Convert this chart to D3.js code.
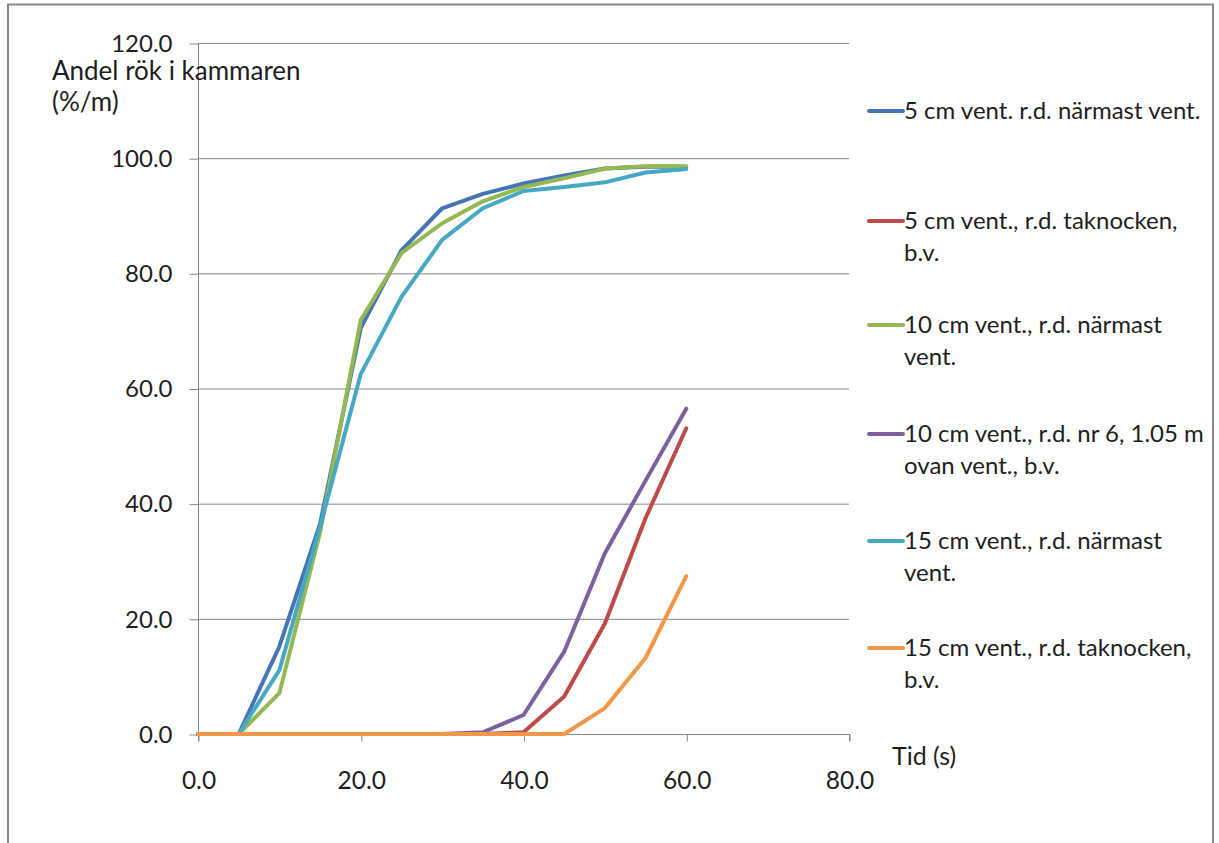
<!DOCTYPE html>
<html><head><meta charset="utf-8">
<script src="https://cdn.jsdelivr.net/npm/d3@7"></script>
<style>
html,body{margin:0;padding:0;background:#fff;}
svg{display:block;font-family:Lato,"Open Sans",sans-serif;}
</style></head>
<body>
<svg id="c" width="1219" height="843"></svg>
<script>
const times = [0,5,10,15,20,25,30,35,40,45,50,55,60];
const seriesNames = [
  ["5 cm vent. r.d. närmast vent."],
  ["5 cm vent., r.d. taknocken,","b.v."],
  ["10 cm vent., r.d. närmast","vent."],
  ["10 cm vent., r.d. nr 6, 1.05 m","ovan vent., b.v."],
  ["15 cm vent., r.d. närmast","vent."],
  ["15 cm vent., r.d. taknocken,","b.v."]
];
const s5Near   = [0,0,15.2,36.5,70.5,84.0,91.3,93.8,95.6,97.0,98.2,98.5,98.5];
const s5Ridge  = [0,0,0,0,0,0,0,0,0.3,6.5,19.2,37.5,53.1];
const s10Near  = [0,0,7.1,35.0,71.9,83.5,88.7,92.5,95.0,96.5,98.2,98.6,98.6];
const s10Nr6   = [0,0,0,0,0,0,0,0.3,3.3,14.3,31.4,44.0,56.5];
const s15Near  = [0,0,11.1,36.0,62.5,75.9,85.8,91.3,94.3,95.0,95.8,97.5,98.1];
const s15Ridge = [0,0,0,0,0,0,0,0,0,0,4.5,13.2,27.4];
const seriesValues = [s5Near,s5Ridge,s10Near,s10Nr6,s15Near,s15Ridge];
const colors = ["#4575B6","#BE4B48","#94B852","#7D60A0","#46A8C3","#F29648"];
const xTicks = [0,20,40,60,80];
const yTicks = [0,20,40,60,80,100,120];

const svg = d3.select("#c");
const x = d3.scaleLinear().domain([0,80]).range([198,849]);
const y = d3.scaleLinear().domain([0,120]).range([734,43]);
const grey = "#878787";
const txt = "#1e1e1e";

// outer frame
svg.append("path").attr("d","M8,843 L8,4.5 L1213,4.5 L1213,843")
  .attr("fill","none").attr("stroke","#8a8a8a").attr("stroke-width",2);

// gridlines
svg.append("g").selectAll("line").data(yTicks.filter(d=>d>0)).join("line")
  .attr("x1",x(0)).attr("x2",x(80)).attr("y1",d=>y(d)+0.5).attr("y2",d=>y(d)+0.5)
  .attr("stroke",grey).attr("stroke-width",1);

// y axis
const yAxis = svg.append("g").attr("transform",`translate(${x(0)+0.5},0.5)`)
  .call(d3.axisLeft(y).tickValues(yTicks).tickFormat(d3.format(".1f")).tickSize(9).tickPadding(17));
yAxis.select(".domain").attr("stroke",grey).attr("d",`M0,${y(120)}V${y(0)}`);
yAxis.selectAll(".tick line").attr("stroke",grey);
yAxis.selectAll(".tick text").attr("font-size",24).attr("fill",txt).attr("font-family","Lato");

// x axis
const xAxis = svg.append("g").attr("transform",`translate(0.5,${y(0)+0.5})`)
  .call(d3.axisBottom(x).tickValues(xTicks).tickFormat(d3.format(".1f")).tickSize(7).tickPadding(30));
xAxis.select(".domain").attr("stroke",grey).attr("d",`M${x(0)},7V0H${x(80)}V7`);
xAxis.selectAll(".tick line").attr("stroke",grey);
xAxis.selectAll(".tick text").attr("font-size",24.5).attr("fill",txt).attr("font-family","Lato");

// axis titles
svg.append("text").attr("x",52).attr("y",80).attr("font-size",26).attr("fill",txt).text("Andel rök i kammaren");
svg.append("text").attr("x",52).attr("y",111).attr("font-size",26).attr("fill",txt).text("(%/m)");
svg.append("text").attr("x",892).attr("y",765).attr("font-size",25).attr("fill",txt).text("Tid (s)");

// lines
const line = d3.line().x((d,i)=>x(times[i])).y(d=>y(d));
svg.append("g").selectAll("path").data(seriesValues).join("path")
  .attr("d",d=>line(d)).attr("fill","none")
  .attr("stroke",(d,i)=>colors[i]).attr("stroke-width",4)
  .attr("stroke-linejoin","round").attr("stroke-linecap","round");

// legend
const legY = [111,221,325,434,541,648];
const leg = svg.append("g").selectAll("g").data(seriesNames).join("g")
  .attr("transform",(d,i)=>`translate(869,${legY[i]})`);
leg.append("line").attr("x1",0).attr("x2",34).attr("y1",0).attr("y2",0)
  .attr("stroke",(d,i)=>colors[i]).attr("stroke-width",4).attr("stroke-linecap","round");
leg.each(function(d){
  const t = d3.select(this).append("text").attr("x",35).attr("y",8).attr("font-size",24).attr("fill",txt);
  d.forEach((s,j)=>t.append("tspan").attr("x",35).attr("dy",j===0?0:32).text(s));
});
</script>
</body></html>
